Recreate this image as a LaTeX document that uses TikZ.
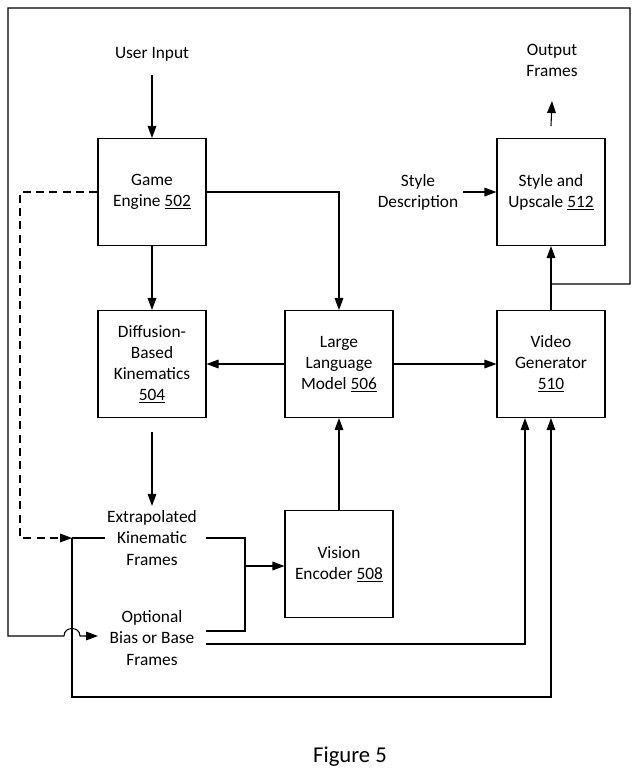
\documentclass[tikz,border=0pt]{standalone}
\usepackage{fontspec}
\setmainfont{Carlito}
\usepackage{tikz}
\usetikzlibrary{arrows.meta}
\tikzset{>={Triangle[length=9pt,width=6.5pt]}}
\usetikzlibrary{positioning}
\tikzset{
    blk/.style={draw,thick,minimum width=108\pgfxx,minimum height=107\pgfxx,align=center,inner sep=2pt},
    lbl/.style={align=center},
}
\newdimen\pgfxx
\pgfxx=0.75pt
\begin{document}
\begin{tikzpicture}[x=0.75pt,y=-0.75pt,font=\fontsize{13}{15.8}\selectfont,line width=0.8pt]
    \useasboundingbox (0,0) rectangle (638,776);
    \node[blk] at (152,192) (ge) {Game\\Engine \underline{502}};
    \node[blk] at (152,364) (dk) {Diffusion-\\Based\\Kinematics\\\underline{504}};
    \node[blk] at (339,364) (llm) {Large\\Language\\Model \underline{506}};
    \node[blk] at (339,564) (ve) {Vision\\Encoder \underline{508}};
    \node[blk] at (551,364) (vg) {Video\\Generator\\\underline{510}};
    \node[blk] at (551,192) (su) {Style and\\Upscale \underline{512}};
    \node[lbl] at (152,54) (ui) {User Input};
    \node[lbl] at (552,60) (of) {Output\\Frames};
    \node[lbl] at (418,192) (sd) {Style\\Description};
    \node[lbl,minimum width=92] at (152,538) (ekf) {Extrapolated\\Kinematic\\Frames};
    \node[lbl,minimum width=92] at (152,638) (obf) {Optional\\Bias or Base\\Frames};
    \node at (350,757) (fig) {\fontsize{17}{20}\selectfont Figure 5};
    \coordinate (ekin) at (72,538);
    \coordinate (ekr) at (206,538);
    \coordinate (obr) at (206,631);
    \coordinate (fork) at (552,284);
    \path[->]
    (ui.south |- 0,75) edge (ge)
    (ge) edge (dk)
    (llm) edge (dk)
    (llm) edge (vg)
    (ve) edge (llm)
    (sd) edge (su)
    (vg) edge (su)
    (su.north |- 0,126) edge (of.south |- 0,101)
    (dk.south |- 0,432) edge (ekf.north)
    ;
    \draw[->] (ge.east) -| (llm.north);
    \draw[dash pattern=on 6pt off 4pt,->] (ge.west) -- (20,192) |- (ekin);
    \draw (ekin) -- (105,538);
    \draw[->] (ekin) |- (72,697) -| (vg.south);
    \draw (ekr) -- (245,538) |- (obr);
    \draw[->] (245,566) -- (ve.west |- 0,566);
    \draw[->] (206,644) -| (vg.south -| 525,0);
    \draw[->] (fork) -- (630,284) |- (8,8) |- (64,636)
        .. controls (64,626) and (80,626) .. (80,636) -- (98,636);
\end{tikzpicture}
\end{document}
